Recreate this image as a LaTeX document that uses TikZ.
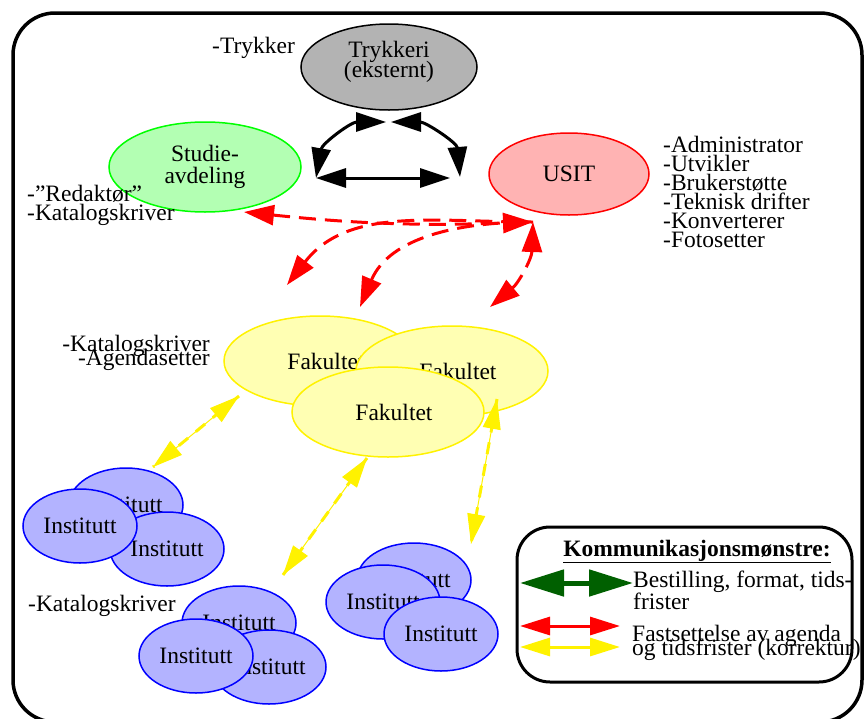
\documentclass[tikz,border=0pt]{standalone}
\usepackage{fontspec}
\setmainfont{Liberation Serif}
\usetikzlibrary{shapes.geometric,arrows.meta}
\definecolor{graa}{RGB}{179,179,179}
\definecolor{lysgronn}{RGB}{179,255,179}
\definecolor{lysroed}{RGB}{255,179,179}
\definecolor{lysgul}{RGB}{255,255,179}
\definecolor{lysblaa}{RGB}{179,179,255}
\definecolor{moerkgronn}{RGB}{0,96,0}
\newcommand{\tettlinjer}{\lineskiplimit=-100pt\relax}
\tikzset{
enhet/.style={ellipse, draw, line width=1.5pt, minimum width=192pt, minimum height=90pt, inner sep=0pt, align=center},
fak/.style={enhet, fill=lysgul, draw=yellow},
inst/.style={enhet, fill=lysblaa, draw=blue, minimum width=114pt, minimum height=74pt},
rolle/.style={inner sep=0pt, align=left},
tett/.style={font={\fontsize{23.5}{#1}\selectfont\tettlinjer}},
svartpil/.style={line width=3pt, >={Triangle[length=30pt,width=19pt]}},
roedpil/.style={red, line width=3pt, dash pattern=on 17pt off 9pt, >={Triangle[length=30pt,width=20pt]}},
gulpil/.style={yellow, line width=1pt, >={Triangle[length=30pt,width=18pt]}, postaction={draw, -, line width=3pt, dash pattern=on 12pt off 10pt}}
}
\begin{document}
\begin{tikzpicture}[x=1pt,y=-1pt,tett=19]
\useasboundingbox (0,0) rectangle (865,718);
\clip (0,0) rectangle (865,718);
\draw[line width=3.5pt, rounded corners=42pt] (13,13) rectangle (862,722);

\node[enhet, fill=graa, minimum width=176pt, minimum height=86pt, text depth=15pt, tett=20] (trykkeri) at (389,67) {Trykkeri\\(eksternt)};
\node[enhet, fill=lysgronn, draw=green, tett=22] (studie) at (205,167) {Studie-\\avdeling};
\node[enhet, fill=lysroed, draw=red, minimum width=160pt, minimum height=82pt] (usit) at (569,174) {USIT};

\node[fak] (fak1) at (320,361) {\hspace{12pt}Fakultet};
\node[fak] (fak2) at (452,371) {\hspace{12pt}Fakultet};
\node[fak] (fak3) at (388,412) {\hspace{12pt}Fakultet};

\foreach \x/\y/\n in {126/505/a1, 167/549/a2, 80/526/a3,
                      239/623/b1, 269/667/b2, 196/656/b3,
                      414/580/c1, 383/602/c2, 441/634/c3}
  \node[inst] (inst\n) at (\x,\y) {Institutt};

\node[rolle, anchor=base west] (trykker) at (212,53) {-Trykker};
\node[rolle, anchor=north west] (studieroller) at (27,185) {-”Redaktør”\\-Katalogskriver};
\node[rolle, anchor=north west] (usitroller) at (663,136)
  {-Administrator\\-Utvikler\\-Brukerstøtte\\-Teknisk drifter\\-Konverterer\\-Fotosetter};
\node[rolle, align=right, anchor=north east, tett=14] (fakroller) at (210,335)
  {-Katalogskriver\\-Agendasetter};
\node[rolle, anchor=base west] (instroller) at (28,611) {-Katalogskriver};

\coordinate (sv) at (316,178);
\coordinate (tv) at (386,122);
\coordinate (th) at (391,122);
\coordinate (uh) at (460,177);
\coordinate (us) at (450,178);
\draw[svartpil, <->] (sv) to[out=80, in=180] (tv);
\draw[svartpil, <->] (th) to[out=0, in=95] (uh);
\draw[svartpil, <->] (sv) -- (us);

\coordinate (ur) at (533,222);
\coordinate (sr) at (244,212);
\coordinate (f1r) at (287,285);
\coordinate (f2r) at (360,307);
\coordinate (f3r) at (490,307);
\draw[roedpil, <->] (sr) to[bend right=4] (ur);
\draw[roedpil, <-] (f1r) to[out=52, in=180] (ur);
\draw[roedpil, <-] (f2r) to[out=67, in=180] (ur);
\draw[roedpil, <->] (ur) to[out=-92, in=40] (f3r);

\coordinate (f1g) at (239,396);
\coordinate (iag) at (153,467);
\coordinate (f3g) at (367,458);
\coordinate (ibg) at (283,575);
\coordinate (f2g) at (497,399);
\coordinate (icg) at (471,544);
\draw[gulpil, <->] (f1g) -- (iag);
\draw[gulpil, <->] (f3g) -- (ibg);
\draw[gulpil, <->] (f2g) -- (icg);

\draw[line width=3pt, rounded corners=33pt] (517,527) rectangle (852,682);
\node[inner sep=0pt, anchor=base, font=\fontsize{23.5}{19}\selectfont\bfseries] (tittel) at (697,556) {\underline{Kommunikasjonsmønstre:}};
\coordinate (g1) at (520,583);
\coordinate (g2) at (633,583);
\coordinate (r1) at (520,626);
\coordinate (r2) at (620,626);
\coordinate (y1) at (520,647);
\coordinate (y2) at (620,647);
\draw[moerkgronn, line width=5pt, >={Triangle[length=44pt,width=26pt]}, <->] (g1) -- (g2);
\draw[red, line width=3pt, >={Triangle[length=30pt,width=18pt]}, <->] (r1) -- (r2);
\draw[yellow, line width=3pt, >={Triangle[length=30pt,width=18pt]}, <->] (y1) -- (y2);
\node[rolle, anchor=north west, tett=22] (bestilling) at (633,571) {Bestilling, format, tids-\\frister};
\node[rolle, anchor=north west, tett=14] (fastsettelse) at (632,625) {Fastsettelse av agenda\\og tidsfrister (korrektur)};
\end{tikzpicture}
\end{document}
